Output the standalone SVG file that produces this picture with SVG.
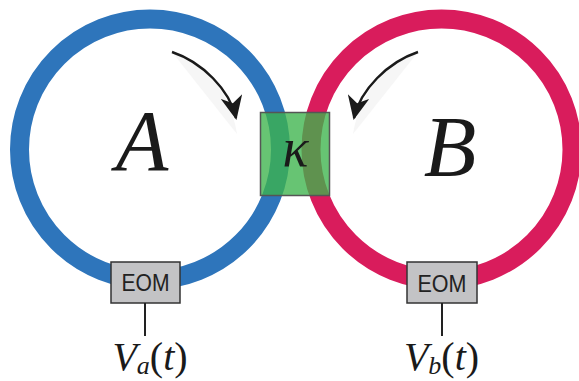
<svg xmlns="http://www.w3.org/2000/svg" width="579" height="381" viewBox="0 0 579 381">
  <style>
    .ring { fill: none; stroke-width: 19; }
    .eom { fill: #c3c3c5; stroke: #333333; stroke-width: 1.5; }
    .eomtxt { font-family: "Liberation Sans", Arial, sans-serif; font-size: 24px; fill: #222222; text-anchor: middle; }
    .math { font-family: "Liberation Serif", "Times New Roman", serif; fill: #1a1a1a; }
    .it { font-style: italic; }
    .arc { fill: none; stroke: #1a1a1a; stroke-width: 2.5; }
    .lead { stroke: #222222; stroke-width: 2; }
    .shade { fill: #f6f6f6; }
  </style>
  <defs>
    <marker id="head" viewBox="0 0 24 22" refX="22" refY="11" markerWidth="24" markerHeight="22" markerUnits="userSpaceOnUse" orient="auto">
      <path d="M0,0 L24,11 L0,22 L7,11 Z" fill="#1a1a1a"/>
    </marker>
  </defs>

  <g id="ringA">
    <circle class="ring" cx="150" cy="149.5" r="130.5" stroke="#2e75bb"/>
    <text class="math it" x="142" y="170" font-size="86" text-anchor="middle">A</text>
  </g>

  <g id="ringB">
    <circle class="ring" cx="441.5" cy="149.5" r="130.5" stroke="#d91c5c"/>
    <text class="math it" x="450" y="176" font-size="86" text-anchor="middle">B</text>
  </g>

  <g id="coupler">
    <rect x="260.5" y="112.5" width="69" height="83" fill="#3cb44b" fill-opacity="0.78" stroke="#555555" stroke-width="1.5"/>
    <text class="math it" x="295.5" y="166" font-size="54" text-anchor="middle">κ</text>
  </g>

  <g id="eomA">
    <rect class="eom" x="111" y="262" width="69" height="41"/>
    <text class="eomtxt" x="145.5" y="291" textLength="48" lengthAdjust="spacingAndGlyphs">EOM</text>
  </g>

  <g id="eomB">
    <rect class="eom" x="407" y="262" width="70" height="41"/>
    <text class="eomtxt" x="442" y="291.5" textLength="49" lengthAdjust="spacingAndGlyphs">EOM</text>
  </g>

  <g id="labelVa">
    <text class="math" x="150" y="370" font-size="40" text-anchor="middle"><tspan class="it">V</tspan><tspan class="it" font-size="26" dy="4">a</tspan><tspan dy="-4">(</tspan><tspan class="it">t</tspan><tspan>)</tspan></text>
  </g>

  <g id="labelVb">
    <text class="math" x="441.5" y="370" font-size="40" text-anchor="middle"><tspan class="it">V</tspan><tspan class="it" font-size="26" dy="4">b</tspan><tspan dy="-4">(</tspan><tspan class="it">t</tspan><tspan>)</tspan></text>
  </g>

  <g id="connectors">
    <path class="shade" d="M172,52 C202,62 230,90 237,134 Z"/>
    <path class="shade" d="M418,52 C388,62 360,90 353,134 Z"/>
    <path class="arc" d="M172,52 C202,62 230,90 236,118" marker-end="url(#head)"/>
    <path class="arc" d="M418,52 C388,62 360,90 354,118" marker-end="url(#head)"/>
    <line class="lead" x1="145" y1="303" x2="145" y2="336"/>
    <line class="lead" x1="442" y1="303" x2="442" y2="336"/>
  </g>
</svg>
